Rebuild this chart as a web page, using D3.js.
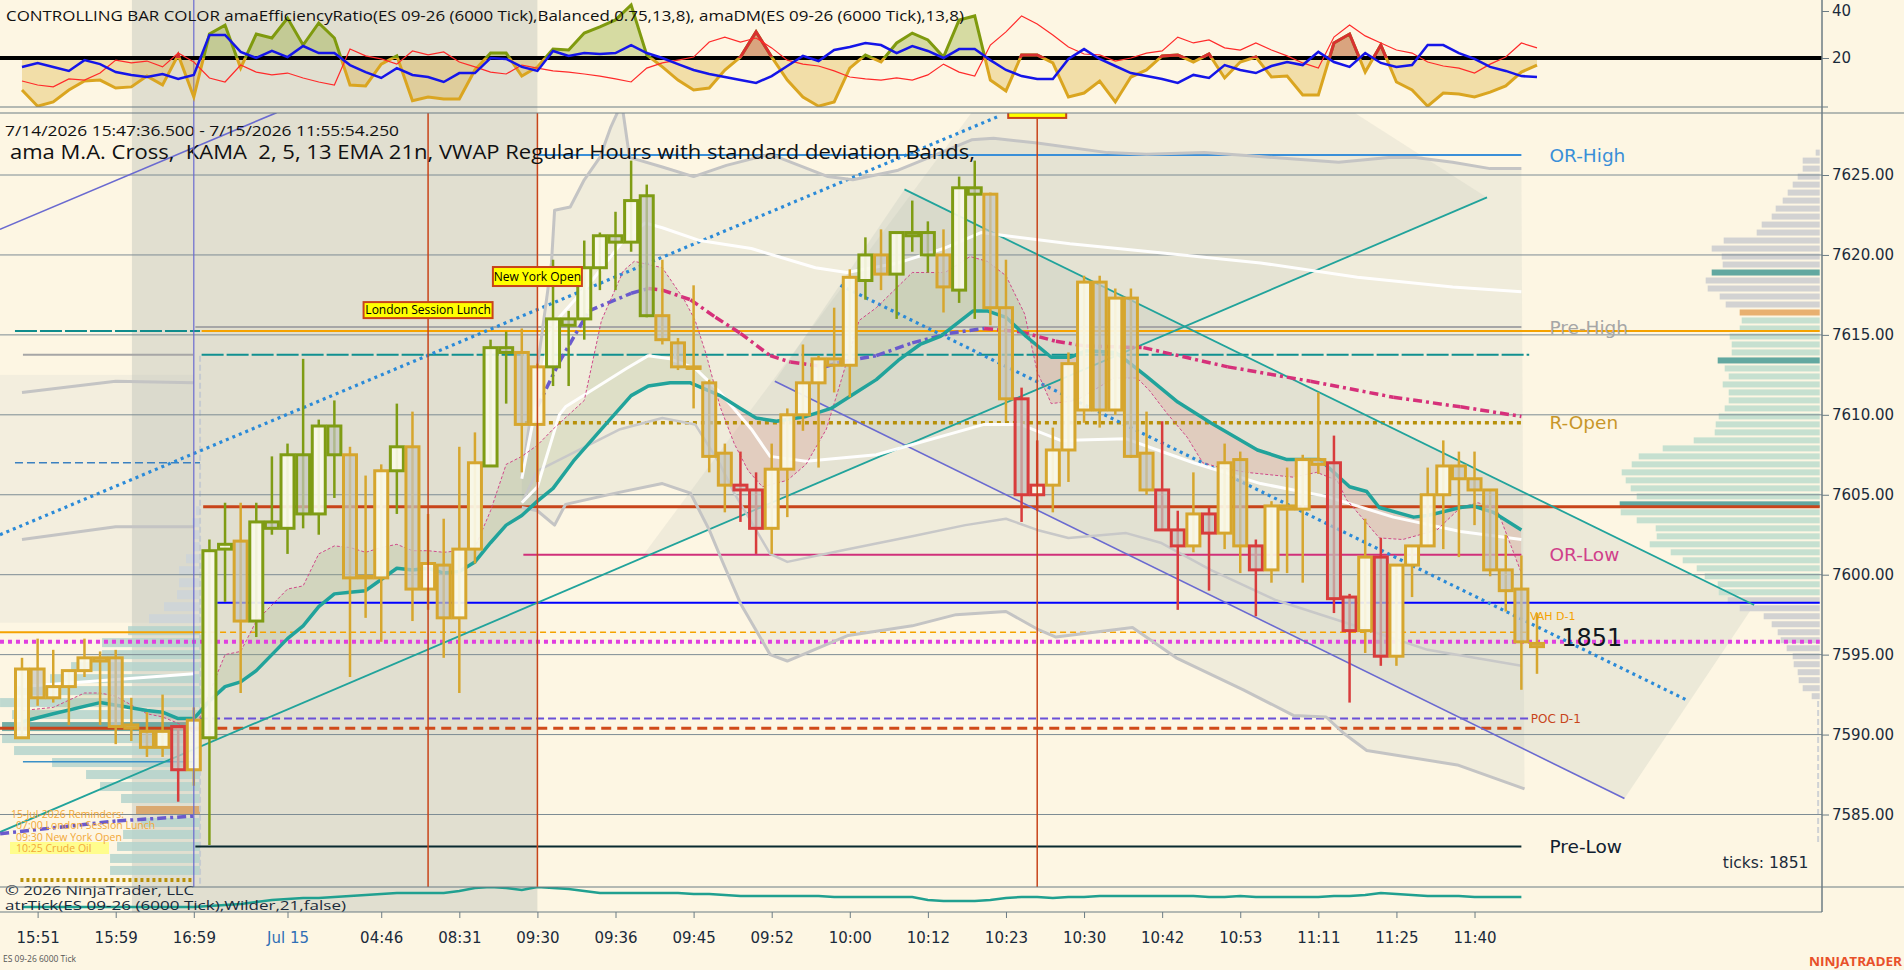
<!DOCTYPE html>
<html>
<head>
<meta charset="utf-8">
<style>
html, body { margin: 0; padding: 0; background: #fdf6e3; overflow: hidden; }
svg { display: block; }
</style>
</head>
<body>
<svg id="chart"></svg>
<script src="https://cdn.jsdelivr.net/npm/d3@7"></script>
<script>
"use strict";

var width  = 1904,
    height = 970;

// ---- bars (6000 tick ES 09-26) ----
var opens = [7589.8,7594.1,7592.3,7593.0,7594.0,7594.8,7594.8,7590.6,7590.2,7589.2,
  7590.5,7587.8,7589.8,7601.6,7602.1,7597.1,7603.3,7602.9,7607.5,7603.8,
  7609.3,7607.5,7599.8,7599.8,7606.5,7608.0,7599.1,7600.6,7597.3,7601.6,
  7606.8,7614.2,7613.9,7609.4,7613.0,7616.0,7616.0,7619.2,7621.2,7620.8,
  7623.7,7616.2,7614.5,7613.0,7612.0,7607.6,7605.6,7605.3,7602.9,7606.6,
  7610.0,7612.0,7613.5,7613.1,7618.4,7620.0,7618.8,7621.4,7621.4,7620.0,
  7617.8,7624.2,7623.8,7616.7,7611.0,7605.0,7605.6,7607.8,7610.3,7618.3,
  7610.3,7617.3,7607.6,7605.3,7602.8,7601.8,7603.8,7602.6,7607.2,7601.8,
  7600.3,7604.3,7604.1,7607.2,7607.0,7598.6,7596.5,7601.1,7594.9,7600.6,
  7601.8,7605.0,7606.8,7606.0,7605.3,7600.3,7599.1,7595.7];
var highs = [7594.8,7596.0,7595.3,7594.0,7596.0,7595.2,7595.3,7592.3,7591.4,7592.5,
  7590.5,7591.7,7602.2,7604.5,7604.5,7604.5,7607.4,7608.2,7613.5,7609.7,
  7610.9,7608.0,7606.2,7606.9,7610.7,7610.2,7603.8,7603.5,7608.0,7608.9,
  7614.7,7615.2,7615.4,7613.2,7619.7,7616.5,7620.9,7621.4,7622.7,7625.9,
  7624.4,7619.7,7614.8,7618.1,7612.2,7608.2,7607.7,7606.4,7608.2,7610.4,
  7614.4,7613.7,7616.7,7619.1,7621.1,7621.6,7621.4,7623.4,7622.1,7621.6,
  7624.9,7625.9,7623.9,7619.7,7611.7,7608.4,7609.2,7613.9,7618.7,7618.7,
  7617.9,7617.9,7610.2,7609.6,7604.0,7606.4,7604.2,7608.2,7607.7,7602.2,
  7604.6,7606.7,7607.5,7611.4,7608.7,7598.8,7603.5,7602.3,7600.6,7601.8,
  7606.7,7608.4,7607.7,7607.7,7605.3,7602.5,7601.2,7597.6];
var lows = [7589.8,7591.8,7592.0,7590.6,7593.6,7590.6,7589.4,7589.6,7588.6,7588.6,
  7585.8,7586.8,7583.1,7598.3,7592.6,7596.1,7602.5,7601.3,7602.9,7602.5,
  7604.8,7593.6,7597.3,7595.8,7603.8,7597.1,7597.8,7594.8,7592.6,7600.7,
  7606.8,7610.7,7606.4,7605.8,7611.8,7611.8,7614.7,7617.8,7617.8,7620.2,
  7616.1,7614.4,7612.8,7610.4,7606.4,7603.9,7603.3,7601.3,7601.3,7603.6,
  7609.0,7606.7,7611.4,7611.1,7617.2,7617.8,7616.0,7620.2,7618.9,7616.4,
  7617.0,7616.0,7615.6,7609.6,7603.3,7604.0,7603.9,7605.8,7609.5,7609.2,
  7610.0,7607.3,7605.0,7602.8,7597.8,7601.4,7599.0,7601.6,7600.1,7597.4,
  7599.5,7600.1,7599.5,7606.3,7597.6,7592.0,7595.1,7594.3,7594.3,7598.6,
  7601.8,7601.6,7601.1,7603.1,7599.9,7597.7,7592.8,7593.8];
var closes = [7594.1,7592.3,7593.0,7594.0,7594.8,7594.6,7590.5,7590.4,7589.2,7590.2,
  7587.8,7590.9,7601.5,7601.9,7597.1,7603.3,7602.9,7607.5,7603.8,7609.3,
  7607.5,7599.8,7599.9,7606.5,7608.0,7599.1,7600.7,7597.3,7601.6,7607.0,
  7614.2,7613.9,7609.4,7613.0,7616.0,7615.6,7619.2,7621.2,7620.8,7623.4,
  7616.2,7614.7,7613.0,7612.9,7607.4,7605.6,7605.3,7602.9,7606.6,7610.0,
  7612.0,7613.5,7613.1,7618.6,7620.0,7618.8,7621.4,7621.2,7620.0,7618.0,
  7624.2,7623.8,7616.7,7611.0,7605.0,7605.6,7607.8,7613.2,7618.3,7610.3,
  7617.3,7607.4,7605.3,7602.8,7601.8,7603.8,7602.6,7607.0,7601.8,7600.3,
  7604.3,7604.1,7607.2,7606.9,7598.5,7596.5,7601.1,7594.9,7600.6,7601.8,
  7605.0,7606.8,7606.0,7605.3,7600.3,7599.0,7595.8,7595.5];
// controlling bar colour: g = neutral, o = trend up, r = trend down
var barState = "gggggggggg" + "rgoogooooo" + "ogggoggggg" + "ooggoooooo" + "ogggggrrgg" +
               "ggggogooog" + "ooggrrgggg" + "gggrrgrggr" + "ggggrrgrgg" + "gggggggg";

// ---- top panel: amaEfficiencyRatio / amaDM ----
var erValues = [6.4,-0.5,1.3,6.4,10.2,10.6,7.2,7.7,12.3,8.5,
  21.3,3.4,30.2,34.0,15.7,30.2,28.5,37.0,25.5,34.9,
  28.5,8.5,8.1,17.4,20.9,1.8,3.4,2.6,2.6,14.9,
  22.1,22.1,12.3,16.2,23.8,23.4,30.6,33.2,36.2,42.6,
  21.3,16.2,10.6,6.4,7.2,14.9,20.4,31.1,20.4,10.6,
  3.4,-0.5,1.3,15.7,21.3,18.3,26.4,30.6,27.7,20.4,
  36.2,37.9,10.6,6.0,21.3,21.3,17.9,3.4,5.1,10.2,
  1.3,11.9,14.9,20.9,21.3,18.3,21.7,11.5,18.3,20.4,
  11.9,12.3,4.3,4.3,26.4,30.2,14.0,25.5,9.8,6.4,
  -0.5,5.1,4.7,3.4,5.5,8.1,14.0,17.0];
var dmPlus = [16.2,17.9,16.2,14.5,19.1,17.4,14.0,12.8,11.9,13.2,
  11.1,12.8,29.8,29.8,22.6,20.0,23.0,20.4,25.1,22.1,
  22.1,17.0,14.0,11.5,15.7,12.8,11.9,9.8,13.6,13.6,
  20.0,19.6,16.2,14.5,23.0,20.9,22.1,21.7,22.1,25.5,
  22.1,20.0,17.4,14.9,13.2,11.9,10.6,9.4,12.3,16.6,
  20.9,18.7,23.4,24.7,26.4,25.5,22.1,25.1,23.0,20.0,
  23.8,23.8,19.1,14.9,12.3,11.1,11.1,19.6,23.8,19.6,
  16.6,13.6,12.3,11.1,9.4,12.8,11.5,17.0,14.9,13.6,
  16.6,18.3,17.0,22.6,18.3,16.2,22.1,17.9,16.2,17.0,
  25.5,25.5,22.1,19.6,16.2,14.5,12.3,11.9];
var dmMinus = [10.2,8.5,7.7,11.1,10.6,13.6,19.1,17.9,18.7,16.2,
  22.1,18.3,11.5,9.8,17.0,14.0,12.8,13.6,11.5,9.8,
  8.5,23.8,20.9,19.6,17.4,23.0,21.3,22.6,18.3,16.2,
  14.0,13.2,17.0,15.7,14.5,14.0,13.2,12.3,11.1,9.8,
  15.7,17.9,19.1,20.4,26.8,28.9,26.8,28.5,24.3,19.1,
  17.4,16.6,14.5,11.9,11.1,10.6,11.5,10.6,12.8,17.4,
  14.0,12.3,25.5,31.1,37.9,34.5,29.8,24.7,21.7,21.3,
  18.7,20.0,22.1,23.0,28.9,26.4,27.7,24.3,23.4,26.4,
  23.4,20.9,17.9,15.7,28.9,34.0,29.4,26.4,23.4,22.1,
  18.3,16.6,15.7,13.6,17.4,20.4,26.4,24.3];
var erLevel = 20;
var indTicks = [20, 40];

// ---- bottom panel: atrTick ----
var atrValues = [1.5,1.5,1.5,1.5,1.5,1.5,1.5,1.5,1.5,1.5,
  1.5,1.5,1.55,1.6,1.65,1.75,1.85,1.9,1.95,1.95,
  2.0,2.05,2.1,2.15,2.2,2.2,2.2,2.2,2.3,2.45,
  2.5,2.45,2.35,2.5,2.45,2.4,2.3,2.2,2.2,2.2,
  2.2,2.2,2.2,2.15,2.15,2.1,2.05,2.05,2.05,2.05,
  2.05,2.05,2.0,2.0,2.0,2.0,2.0,2.0,1.85,1.8,
  1.8,1.8,1.85,1.95,2.0,2.0,1.95,2.0,2.0,2.05,
  2.05,2.05,2.05,2.05,2.05,2.05,2.0,2.0,2.05,2.0,
  2.0,2.0,2.0,2.0,2.05,2.05,2.1,2.2,2.15,2.1,
  2.05,2.05,2.05,2.0,2.0,2.0,2.0];

// ---- overlays: [bar, price] ----
var bandUpper2 = [[32,7606],[33,7613],[33.9,7619.5],[34.1,7622.8],[35.1,7623.0],[36.0,7624.7],[37.0,7626.1],[37.7,7628],[38.4,7629.5],[38.9,7626.1],
  [41.0,7625.5],[43.0,7624.9],[45.1,7625.6],[47.9,7626.3],[51.6,7624.9],[53.2,7624.7],[56.1,7625.3],[58.1,7626.1],
  [60.8,7627.2],[62.2,7627.3],[65.0,7627.0],[69.5,7626.4],[72.0,7626.3],[75.7,7626.4],[78.6,7626.2],[84.3,7625.8],
  [87.5,7626.1],[89.2,7626.1],[91.6,7625.8],[94.0,7625.4],[96.0,7625.4]];
var bandUpper1 = [[32,7606],[33,7611],[33.8,7615],[34.4,7616.1],[36.5,7618.4],[38.5,7620.9],[39.9,7622.0],[41.0,7621.7],
  [43.4,7620.9],[46.7,7620.4],[50.8,7619.2],[52.8,7618.9],[56.1,7619.5],[59.0,7620.4],[61.4,7621.4],[63.0,7621.2],
  [67.1,7620.7],[73.2,7620.1],[79.3,7619.5],[85.5,7618.6],[91.6,7618.0],[96.0,7617.7]];
var vwapLine = [[32,7604.5],[33,7605.5],[34.4,7610.0],[34.8,7610.5],[38.7,7612.9],[40.1,7613.7],[41.5,7613.5],[43.1,7612.9],
  [44.7,7611.4],[46.7,7609.1],[47.9,7607.4],[50.2,7607.1],[54.7,7607.5],[61.6,7609.4],[63.9,7609.4],[66.5,7608.4],
  [70.7,7608.5],[75.0,7607.0],[79.3,7605.7],[83.5,7604.9],[87.8,7603.6],[92.1,7602.7],[96.0,7602.2]];
var bandLower1 = [[32,7604.5],[33,7606.5],[38.3,7609.1],[41.0,7609.8],[43.1,7609.4],[44.7,7606.9],[45.6,7605.1],[47.0,7602.8],
  [47.9,7601.3],[49.0,7600.8],[52.4,7601.5],[57.0,7602.4],[60.4,7603.1],[63.0,7603.5],[65.0,7602.8],[67.0,7602.3],
  [70.7,7602.6],[72.9,7602.0],[76.1,7600.3],[80.3,7598.4],[85.7,7596.7],[90.0,7595.3],[96.0,7594.3]];
var bandLower2 = [[32,7604.2],[33,7604.0],[34.1,7603.1],[34.8,7604.4],[38.0,7605.1],[41.0,7605.7],[42.8,7605.1],[44.0,7602.8],
  [44.9,7600.7],[46.0,7598.2],[47.9,7595.0],[49.0,7594.6],[52.9,7596.2],[57.0,7596.8],[59.8,7597.5],[63.0,7597.7],
  [65.0,7596.6],[66.2,7596.1],[71.1,7596.7],[73.9,7594.8],[78.2,7592.8],[81.4,7591.2],[83.5,7591.1],[84.6,7590.1],
  [86.1,7589.0],[91.9,7588.1],[96.2,7586.6]];
var prevUpper = [[0,7611.4],[6,7612.1],[11,7612.0]];
var prevLower = [[0,7602.2],[6,7603.0],[11,7603.0]];
var prevVwap  = [[0,7593.0],[11,7593.8]];
var prevKama  = [[-1.4,7583.8],[6.1,7584.6],[11,7584.9]];

var emaSlow = [[0,7590.8],[2,7591.3],[5,7592.0],[8,7591.5],[9,7591.4],[10,7591.0],[11,7591.0],[12,7592.1],[13,7593.0],
  [14,7593.3],[15,7594.0],[16,7595.0],[17,7596.0],[18,7596.8],[19,7598.0],[20,7598.8],[21,7598.9],[22,7599.0],
  [23,7599.7],[24,7600.4],[25,7600.3],[26,7600.4],[27,7600.1],[28,7600.2],[29,7600.8],[30,7602.0],[31,7603.1],
  [32,7603.7],[33,7604.6],[34,7605.4],[35.3,7607.1],[37.1,7609.1],[39.0,7611.2],[40.1,7611.8],[41.5,7612.0],
  [42.8,7612.0],[44.7,7611.2],[46.0,7610.4],[47.0,7609.8],[48.3,7609.6],[50.2,7609.9],[51.8,7610.4],[53.4,7611.4],
  [54.7,7612.2],[56.1,7613.4],[57.5,7614.4],[58.8,7614.9],[60.9,7616.5],[61.8,7616.5],[63.0,7616.1],[64.3,7614.9],
  [65.9,7613.6],[67.1,7613.6],[68.1,7614.0],[70.0,7613.9],[70.7,7613.4],[72.0,7612.4],[74.0,7610.8],[76.1,7609.5],
  [79.1,7607.8],[81.0,7607.2],[83.1,7607.2],[85.0,7605.5],[86.1,7605.2],[86.9,7604.2],[89.1,7603.6],[90.0,7603.7],
  [92.1,7604.2],[92.9,7604.3],[94.2,7603.9],[96.0,7602.8]];
var emaFast = [[0,7591.5],[2,7591.7],[4,7592.6],[5,7592.6],[6,7592.4],[8,7591.3],[9,7591.1],[10,7590.7],[11,7590.1],
  [12,7592.6],[13,7595.0],[14,7595.2],[15,7597.1],[16,7598.1],[17,7599.1],[18,7599.3],[19,7601.3],[20,7601.8],
  [21,7601.7],[22,7601.4],[23,7601.7],[24,7601.9],[25,7601.5],[26,7601.5],[27,7601.4],[28,7601.5],[29,7601.7],
  [30,7604.0],[31,7606.9],[32,7607.4],[33,7608.1],[34,7609.1],[35,7610.0],[36.0,7610.9],[37.1,7615.9],[38.5,7619.0],
  [39.2,7619.6],[41.0,7619.2],[42.4,7617.2],[43.1,7615.9],[43.8,7613.8],[44.7,7610.5],[45.6,7608.2],[46.5,7606.5],
  [47.4,7605.5],[49.0,7605.9],[50.2,7606.9],[51.5,7609.1],[52.4,7612.0],[53.6,7615.9],[54.7,7616.7],[57.0,7618.9],
  [59.1,7618.9],[60.7,7619.9],[61.8,7619.6],[63.0,7618.7],[64.2,7616.3],[65.0,7612.7],[65.9,7610.7],[67.5,7610.9],
  [68.9,7611.7],[69.9,7612.3],[71.4,7612.3],[72.2,7611.5],[73.3,7610.1],[74.6,7608.6],[75.6,7607.0],[76.7,7606.7],
  [78.4,7606.4],[81.4,7606.1],[82.9,7606.4],[84.2,7605.9],[84.8,7604.7],[86.9,7602.3],[88.4,7602.2],[90.6,7602.8],
  [92.1,7604.2],[93.2,7604.5],[94.4,7604.2],[96.0,7600.1]];
var kamaLine = [[33,7610.5],[34.4,7613.3],[36.3,7616.5],[39.0,7617.6],[40.1,7617.9],[41.0,7617.8],[42.8,7617.2],
  [44.4,7616.1],[46.0,7615.1],[47.9,7613.7],[49.2,7613.3],[51.4,7613.0],[52.4,7613.3],[54.7,7613.7],[57.0,7614.5],
  [59.4,7615.1],[61.6,7615.4],[63.9,7615.2],[66.2,7614.6],[68.1,7614.3],[71.8,7614.2],[77.2,7613.0],[82.5,7612.1],
  [87.8,7611.1],[92.1,7610.5],[96.0,7609.9]];

// ---- drawn lines: [[bar, price], [bar, price], colour, width, dash] ----
var trendLines = [
  [[-1.41,7602.5],[62.6,7628.7],"#2a8ad8",3.2,"3,4"],
  [[52.4,7618.1],[106.5,7592.2],"#2a8ad8",3.2,"3,4"],
  [[-1.41,7621.6],[16.3,7628.9],"#6a6ad0",1.6,null],
  [[48.2,7612.1],[102.6,7586.0],"#6a6ad0",1.6,null],
  [[-1.41,7583.9],[93.8,7623.6],"#21a39b",1.8,null],
  [[56.5,7624.1],[110.9,7598.1],"#21a39b",1.8,null]
];
var channelArea = [[48.2,7612.1],[56.5,7624.1],[110.9,7598.1],[102.6,7586.0]];
var upperArea   = [[39.6,7601.0],[60.8,7628.9],[85.3,7628.9],[93.8,7623.6]];

// ---- price levels: [price, from bar, to bar, colour, width, dash] ----
var levels = [
  [7626.25, 33.0, 96.0, "#3a8fd8", 2, null],
  [7615.5, 11.1, 96.0, "#a6a6a6", 2, null],
  [7615.25, 11.5, 115.1, "#f5a200", 2, null],
  [7615.25, -0.45, 11.4, "#108c8c", 2, "22,3"],
  [7613.75, 11.5, 96.5, "#109090", 2, "22,3"],
  [7613.75, 0.06, 10.95, "#a6a6a6", 2, null],
  [7609.5, 32.2, 96.0, "#b8900a", 3.5, "4,4"],
  [7607.0, -0.45, 11.4, "#3a80c0", 1.5, "8,4"],
  [7604.25, 11.6, 115.1, "#c8441a", 3, null],
  [7601.25, 32.1, 96.0, "#d0307a", 2, null],
  [7598.25, 12.5, 115.1, "#0000ff", 2, null],
  [7596.4, -1.41, 11.4, "#f5a200", 2, null],
  [7596.4, 11.4, 96.5, "#f5a200", 1.5, "6,4"],
  [7595.8, -1.41, 115.1, "#e040e0", 4, "4,4"],
  [7591.0, 11.4, 96.5, "#6a50d8", 2, "8,4"],
  [7590.4, -1.41, 11.4, "#c8441a", 3, null],
  [7590.4, 12.5, 96.0, "#d04a1a", 3, "10,6"],
  [7588.3, 0.06, 10.95, "#3a90c8", 1.5, null],
  [7583.0, 11.1, 96.0, "#0a2a30", 2, null],
  [7580.9, -0.1, 10.95, "#b8900a", 4, "3,3"]
];
var levelNames  = ["OR-High", "Pre-High", "R-Open", "OR-Low", "Pre-Low"];
var levelPrices = [7626.25, 7615.5, 7609.5, 7601.25, 7583.0];
var levelColors = ["#3a8fd8", "#a6a6a6", "#c8962a", "#d0408a", "#102030"];

// ---- volume profiles ----
var profileTop = 7626.4, profileStep = 0.5;
var profileVolume = [4,17,17,22,27,32,37,44,48,58,63,96,108,98,97,108,114,112,100,94,
  80,78,80,90,88,88,102,95,91,97,91,91,95,101,104,105,126,157,181,188,
  198,194,189,183,200,199,183,164,163,170,149,137,123,115,102,101,92,80,56,48,
  42,39,33,27,26,22,21,17,8];
var profileType = "gggggggggggggggpggggo" + "vvvvvpvvvvvvvvvvvvvvvvvpvvvvvvvvvvv" + "ggggggggggggg";
var prevProfileTop = 7604.0, prevProfileStep = 0.75;
var prevProfileVolume = [4,8,7,7,14,21,21,23,36,51,72,98,98,129,150,186,200,188,198,198,
  186,148,114,100,79,64,59,77,83,90,90];
var prevProfileType = "gggggggggg" + "vvvvvvvvpvvvvvvovvvvv";

// ---- sessions and markers (bar index) ----
var sessionShade = [7.04, 33.0];
var cursorBar = 11;
var eventBars = [26, 33, 65];
var eventNames = ["London Session Lunch", "New York Open", ""];
var eventPrices = [7616.55, 7618.65, 7629.07];

var priceTicks = [7585, 7590, 7595, 7600, 7605, 7610, 7615, 7620, 7625];
var timeBars   = [1, 6, 11, 17, 23, 28, 33, 38, 43, 48, 53, 58, 63, 68, 73, 78, 83, 88, 93];
var timeLabels = ["15:51","15:59","16:59","Jul 15","04:46","08:31","09:30","09:36","09:45","09:52",
                  "10:00","10:12","10:23","10:30","10:42","10:53","11:11","11:25","11:40"];
var lastTicks = 1851;


// Setup
var plotRight = 1822, indBottom = 107, priceTop = 113, priceBottom = 887, atrBottom = 912;

var x    = d3.scaleLinear().domain([0, 97]).range([22, 1537]);
var y    = d3.scaleLinear().domain([7585, 7625]).range([814.5, 175]);
var yInd = d3.scaleLinear().domain([20, 40]).range([58, 11]);
var yAtr = d3.scaleLinear().domain([1.25, 2.5]).range([atrBottom, priceBottom]);
var vol  = d3.scaleLinear().domain([0, 200]).range([0, 200]);

var stateColor = {g: "#d6a62e", o: "#7f9c14", r: "#d83c3c"};
var axisColor = "#6c7c84";

var svg = d3.select("#chart")
            .attr("width", width)
            .attr("height", height)
            .style("font-family", "'DejaVu Sans', sans-serif");

svg.append("rect").attr("width", width).attr("height", height).attr("fill", "#fdf6e3");

var defs = svg.append("defs");
function addClip(id, x0, y0, w, h) {
    defs.append("clipPath").attr("id", id)
        .append("rect").attr("x", x0).attr("y", y0).attr("width", w).attr("height", h);
}
addClip("clipPrice", 0, priceTop, plotRight, priceBottom - priceTop);
addClip("clipInd", 0, 0, plotRight, indBottom);
addClip("clipAbove", 0, 0, plotRight, yInd(erLevel));
addClip("clipBelow", 0, yInd(erLevel), plotRight, indBottom - yInd(erLevel));
addClip("clipAtr", 0, priceBottom, plotRight, atrBottom - priceBottom);

var pLine = d3.line().x(function(d) { return x(d[0]); }).y(function(d) { return y(d[1]); });

function polyPath(pts) {
    return "M" + pts.map(function(d) { return x(d[0]) + "," + y(d[1]); }).join("L") + "Z";
}

// session shading over all panels
svg.append("rect")
    .attr("x", x(sessionShade[0]))
    .attr("y", 0)
    .attr("width", x(sessionShade[1]) - x(sessionShade[0]))
    .attr("height", atrBottom)
    .attr("fill", "#919a97")
    .attr("opacity", 0.25);


// ---------------- price panel ----------------
var main = svg.append("g").attr("clip-path", "url(#clipPrice)");

main.append("rect")
    .attr("x", x(-1.41)).attr("y", y(7612.5))
    .attr("width", x(cursorBar) - x(-1.41)).attr("height", y(7597) - y(7612.5))
    .attr("fill", "#b8c0c0").attr("opacity", 0.14);

main.append("path")
    .attr("d", "M" + bandUpper2.concat(bandLower2.slice().reverse())
        .map(function(d) { return x(d[0]) + "," + y(d[1]); }).join("L") + "Z")
    .attr("fill", "#9aa8a8").attr("opacity", 0.13);

main.append("path").attr("d", polyPath(upperArea)).attr("fill", "#b0b4ae").attr("opacity", 0.16);
main.append("path").attr("d", polyPath(channelArea)).attr("fill", "#aab8b0").attr("opacity", 0.2);

// right volume profile
var profileColor = {g: "#d2d2d2", v: "#c6e0d0", p: "#62a8a0", o: "#e8b070"};
main.append("g").selectAll("rect")
    .data(profileVolume)
    .enter().append("rect")
        .attr("x", function(d) { return x(115.1) - vol(d); })
        .attr("y", function(d, i) { return y(profileTop - i * profileStep) - 3; })
        .attr("width", function(d) { return vol(d); })
        .attr("height", 6)
        .attr("fill", function(d, i) { return profileColor[profileType[i]]; });

// previous session profile
var prevProfileColor = {g: "#cdd3d8", v: "#b4d4cc", p: "#5aa09a", o: "#d8a060"};
main.append("g").selectAll("rect")
    .data(prevProfileVolume)
    .enter().append("rect")
        .attr("x", function(d) { return x(11.4) - vol(d); })
        .attr("y", function(d, i) { return y(prevProfileTop - i * prevProfileStep) - 4.5; })
        .attr("width", function(d) { return vol(d); })
        .attr("height", 9)
        .attr("fill", function(d, i) { return prevProfileColor[prevProfileType[i]]; })
        .attr("opacity", 0.85);

main.append("line")
    .attr("x1", x(11.4)).attr("x2", x(11.4)).attr("y1", y(7613.7)).attr("y2", priceBottom)
    .attr("stroke", "#c6cbd0").attr("stroke-width", 2).attr("stroke-dasharray", "6,3");
main.append("line")
    .attr("x1", x(115)).attr("x2", x(115)).attr("y1", y(7592.1)).attr("y2", y(7583.1))
    .attr("stroke", "#cfd2d4").attr("stroke-width", 2).attr("stroke-dasharray", "6,3");

// grid
main.append("g").selectAll("line")
    .data(priceTicks)
    .enter().append("line")
        .attr("x1", 0).attr("x2", plotRight)
        .attr("y1", y).attr("y2", y)
        .attr("stroke", "#7d8c94").attr("stroke-width", 1);

// fill between the two averages
var fastPts = emaFast.map(function(d) { return [x(d[0]), y(d[1])]; });
var slowPts = emaSlow.map(function(d) { return [x(d[0]), y(d[1])]; });
defs.append("clipPath").attr("id", "slowAbove").append("path")
    .attr("d", "M" + slowPts.join("L") + "L" + [x(96), priceTop] + "L" + [x(0), priceTop] + "Z");
defs.append("clipPath").attr("id", "slowBelow").append("path")
    .attr("d", "M" + slowPts.join("L") + "L" + [x(96), priceBottom] + "L" + [x(0), priceBottom] + "Z");
var between = "M" + fastPts.join("L") + "L" + slowPts.slice().reverse().join("L") + "Z";
main.append("path").attr("d", between).attr("fill", "#a0b080").attr("opacity", 0.22)
    .attr("clip-path", "url(#slowAbove)");
main.append("path").attr("d", between).attr("fill", "#d88c80").attr("opacity", 0.24)
    .attr("clip-path", "url(#slowBelow)");

// levels
main.append("g").selectAll("line")
    .data(levels)
    .enter().append("line")
        .attr("x1", function(d) { return x(d[1]); })
        .attr("x2", function(d) { return x(d[2]); })
        .attr("y1", function(d) { return y(d[0]); })
        .attr("y2", function(d) { return y(d[0]); })
        .attr("stroke", function(d) { return d[3]; })
        .attr("stroke-width", function(d) { return d[4]; })
        .attr("stroke-dasharray", function(d) { return d[5]; });

// drawing tools
main.append("g").selectAll("path")
    .data(trendLines)
    .enter().append("path")
        .attr("d", function(d) { return pLine([d[0], d[1]]); })
        .attr("fill", "none")
        .attr("stroke", function(d) { return d[2]; })
        .attr("stroke-width", function(d) { return d[3]; })
        .attr("stroke-dasharray", function(d) { return d[4]; });

// vwap bands
function drawCurve(pts, color, w, dash, op) {
    main.append("path")
        .attr("d", pLine(pts))
        .attr("fill", "none")
        .attr("stroke", color)
        .attr("stroke-width", w)
        .attr("stroke-dasharray", dash)
        .attr("opacity", op || 1)
        .attr("stroke-linejoin", "round");
}
drawCurve(prevUpper, "#c4c4c4", 3);
drawCurve(prevLower, "#c4c4c4", 3);
drawCurve(prevVwap, "#ffffff", 3);
drawCurve(bandUpper2, "#c4c4c4", 3);
drawCurve(bandLower2, "#c4c4c4", 3);
drawCurve(bandLower1, "#c8c8c8", 2.5);
drawCurve(bandUpper1, "#ffffff", 3, null, 0.95);
drawCurve(vwapLine, "#ffffff", 3, null, 0.95);

// KAMA dash-dot, coloured by slope
function drawKama(pts) {
    for (var i = 1; i < pts.length; i++) {
        main.append("path")
            .attr("d", pLine([pts[i - 1], pts[i]]))
            .attr("fill", "none")
            .attr("stroke", pts[i][1] >= pts[i - 1][1] ? "#6a5acd" : "#d6307a")
            .attr("stroke-width", 3.5)
            .attr("stroke-dasharray", "9,4,3,4");
    }
}
drawKama(prevKama);
drawKama(kamaLine);

drawCurve(emaFast, "#d04a8a", 1, "3,2");
drawCurve(emaSlow, "#21a39b", 3.5);

// candles
var bars = d3.range(opens.length).map(function(i) {
    return {i: i, o: opens[i], h: highs[i], l: lows[i], c: closes[i], s: barState[i]};
});
var candle = main.append("g").selectAll("g")
    .data(bars)
    .enter().append("g")
        .attr("transform", function(d) { return "translate(" + x(d.i) + ",0)"; });
candle.append("line")
    .attr("y1", function(d) { return y(d.h); })
    .attr("y2", function(d) { return y(d.l); })
    .attr("stroke", function(d) { return stateColor[d.s]; })
    .attr("stroke-width", 2.5);
candle.append("rect")
    .attr("x", -6.5)
    .attr("width", 13)
    .attr("y", function(d) { return y(Math.max(d.o, d.c)); })
    .attr("height", function(d) { return Math.max(1.5, Math.abs(y(d.o) - y(d.c))); })
    .attr("fill", function(d) { return d.c >= d.o ? "rgba(250,248,232,0.92)" : "rgba(196,198,192,0.7)"; })
    .attr("stroke", function(d) { return stateColor[d.s]; })
    .attr("stroke-width", 3);

// session / event lines
main.append("g").selectAll("line")
    .data(eventBars)
    .enter().append("line")
        .attr("x1", x).attr("x2", x)
        .attr("y1", priceTop).attr("y2", priceBottom)
        .attr("stroke", "#c8441a").attr("stroke-width", 1.5);

var events = main.append("g").selectAll("g")
    .data(eventBars)
    .enter().append("g")
        .attr("transform", function(d, i) { return "translate(" + x(d) + "," + y(eventPrices[i]) + ")"; });
events.append("rect")
    .attr("x", function(d, i) { return i === 0 ? -64.5 : (i === 1 ? -44.5 : -29); })
    .attr("y", function(d, i) { return i === 1 ? -9.5 : -8; })
    .attr("width", function(d, i) { return i === 0 ? 129 : (i === 1 ? 89 : 58); })
    .attr("height", function(d, i) { return i === 1 ? 19 : 16; })
    .attr("fill", "#ffff00")
    .attr("stroke", "#c8441a")
    .attr("stroke-width", 2);
events.append("text")
    .attr("text-anchor", "middle")
    .attr("dy", "0.36em")
    .style("font-family", "'Open Sans', sans-serif")
    .style("font-size", "12px")
    .attr("fill", "#000")
    .text(function(d, i) { return eventNames[i]; });

// level labels
main.append("g").selectAll("text")
    .data(levelNames)
    .enter().append("text")
        .attr("x", x(97.8))
        .attr("y", function(d, i) { return y(levelPrices[i]); })
        .attr("dy", "0.36em")
        .style("font-size", "18.5px")
        .attr("fill", function(d, i) { return levelColors[i]; })
        .text(function(d) { return d; });

main.append("text").attr("x", x(96.55)).attr("y", y(7597.4)).attr("dy", "0.36em")
    .style("font-size", "11px").attr("fill", "#f5a200").text("VAH D-1");
main.append("text").attr("x", x(96.6)).attr("y", y(7591.0)).attr("dy", "0.36em")
    .style("font-size", "12px").attr("fill", "#c8441a").text("POC D-1");
main.append("text").attr("x", x(98.55)).attr("y", y(7596.1)).attr("dy", "0.36em")
    .style("font-size", "24px").attr("fill", "#101820").text(lastTicks);
main.append("text").attr("x", x(108.9)).attr("y", y(7582.0)).attr("dy", "0.36em")
    .style("font-size", "15.5px").attr("fill", "#1a2a3a").text("ticks: " + lastTicks);

// reminders
var reminders = ["15-Jul-2026 Reminders:", "07:00 London Session Lunch", "09:30 New York Open", "10:25 Crude Oil"];
main.append("rect").attr("x", 10).attr("y", 842).attr("width", 99).attr("height", 12)
    .attr("fill", "#ffff70").attr("opacity", 0.75);
main.append("g").selectAll("text")
    .data(reminders)
    .enter().append("text")
        .attr("x", function(d, i) { return i === 0 ? 11 : 16; })
        .attr("y", function(d, i) { return 818 + i * 11.3; })
        .style("font-family", "'Open Sans', sans-serif")
        .style("font-size", "10.5px")
        .attr("fill", "#f2a838")
        .text(function(d) { return d; });

// chart titles
function title(txt, x0, y0, size, len) {
    svg.append("text")
        .attr("x", x0).attr("y", y0)
        .attr("textLength", len)
        .attr("lengthAdjust", "spacingAndGlyphs")
        .style("font-family", "'Open Sans', sans-serif")
        .style("font-size", size + "px")
        .style("white-space", "pre")
        .attr("fill", "#101010")
        .text(txt);
}
title("7/14/2026 15:47:36.500 - 7/15/2026 11:55:54.250", 5, 136, 14.5, 394);
title("ama M.A. Cross,  KAMA  2, 5, 13 EMA 21n, VWAP Regular Hours with standard deviation Bands,", 10, 158.5, 19.5, 965);

// cursor line
svg.append("line")
    .attr("x1", x(cursorBar)).attr("x2", x(cursorBar))
    .attr("y1", 0).attr("y2", priceBottom)
    .attr("stroke", "#6a6ad0").attr("stroke-width", 1.2);


// ---------------- top indicator panel ----------------
var ind = svg.append("g").attr("clip-path", "url(#clipInd)");
var erPts = erValues.map(function(v, i) { return {i: i, v: v}; });
var erArea = d3.area().x(function(d) { return x(d.i); }).y0(yInd(erLevel)).y1(function(d) { return yInd(d.v); });
var erLine = d3.line().x(function(d) { return x(d.i); }).y(function(d) { return yInd(d.v); });

ind.append("path").attr("d", erArea(erPts)).attr("fill", "#daa520").attr("opacity", 0.3)
    .attr("clip-path", "url(#clipBelow)");
ind.append("path").attr("d", erArea(erPts)).attr("fill", "#7f9a0e").attr("opacity", 0.3)
    .attr("clip-path", "url(#clipAbove)");

// runs of red bars
var redRuns = [];
for (var i = 0; i < barState.length; i++) {
    if (barState[i] === "r" && (i === 0 || barState[i - 1] !== "r")) {
        var j = i;
        while (j + 1 < barState.length && barState[j + 1] === "r") j++;
        redRuns.push(erPts.slice(Math.max(0, i - 1), Math.min(erPts.length, j + 2)));
    }
}
redRuns.forEach(function(run) {
    ind.append("path").attr("d", erArea(run)).attr("fill", "#e04040").attr("opacity", 0.35)
        .attr("clip-path", "url(#clipAbove)");
});

ind.append("line")
    .attr("x1", 0).attr("x2", plotRight)
    .attr("y1", yInd(erLevel)).attr("y2", yInd(erLevel))
    .attr("stroke", "#000").attr("stroke-width", 4);

ind.append("path").attr("d", erLine(erPts)).attr("fill", "none")
    .attr("stroke", "#daa520").attr("stroke-width", 3).attr("clip-path", "url(#clipBelow)");
ind.append("path").attr("d", erLine(erPts)).attr("fill", "none")
    .attr("stroke", "#7f9a0e").attr("stroke-width", 3).attr("clip-path", "url(#clipAbove)");
redRuns.forEach(function(run) {
    ind.append("path").attr("d", erLine(run)).attr("fill", "none")
        .attr("stroke", "#d83030").attr("stroke-width", 3).attr("clip-path", "url(#clipAbove)");
});

var idxLine = d3.line().x(function(d, i) { return x(i); }).y(function(d) { return yInd(d); });
ind.append("path").attr("d", idxLine(dmMinus)).attr("fill", "none")
    .attr("stroke", "#ff2a2a").attr("stroke-width", 1.2);
ind.append("path").attr("d", idxLine(dmPlus)).attr("fill", "none")
    .attr("stroke", "#1515e8").attr("stroke-width", 2.5);

title("CONTROLLING BAR COLOR amaEfficiencyRatio(ES 09-26 (6000 Tick),Balanced,0.75,13,8), amaDM(ES 09-26 (6000 Tick),13,8)",
      6, 21, 15, 958);


// ---------------- ATR panel ----------------
var atr = svg.append("g").attr("clip-path", "url(#clipAtr)");
atr.append("path")
    .attr("d", d3.line().x(function(d, i) { return x(i); }).y(function(d) { return yAtr(d); })(atrValues))
    .attr("fill", "none")
    .attr("stroke", "#20a090")
    .attr("stroke-width", 2.5);

svg.append("text").attr("x", 5).attr("y", 895).attr("textLength", 189).attr("lengthAdjust", "spacingAndGlyphs")
    .style("font-family", "'Open Sans', sans-serif").style("font-size", "12px")
    .attr("fill", "#1a2a3a").text("\u00a9 2026 NinjaTrader, LLC");
svg.append("text").attr("x", 5).attr("y", 910).attr("textLength", 341).attr("lengthAdjust", "spacingAndGlyphs")
    .style("font-family", "'Open Sans', sans-serif").style("font-size", "12px")
    .attr("fill", "#1a2a3a").text("atrTick(ES 09-26 (6000 Tick),Wilder,21,false)");


// ---------------- frame and axes ----------------
function hRule(y0, x2) {
    svg.append("line").attr("x1", 0).attr("x2", x2).attr("y1", y0).attr("y2", y0)
        .attr("stroke", axisColor).attr("stroke-width", 1.2);
}
hRule(indBottom, plotRight + 6);
hRule(priceTop, width);
hRule(priceBottom, width);
hRule(atrBottom, plotRight);
svg.append("line").attr("x1", plotRight).attr("x2", plotRight).attr("y1", 0).attr("y2", atrBottom)
    .attr("stroke", axisColor).attr("stroke-width", 1.5);

function styleAxis(g) {
    g.select(".domain").remove();
    g.selectAll(".tick line").attr("stroke", axisColor);
    g.selectAll(".tick text").attr("fill", "#1a2a3a").style("font-size", "15px")
        .style("font-family", "'DejaVu Sans', sans-serif");
}

svg.append("g")
    .attr("transform", "translate(" + plotRight + ",0)")
    .call(d3.axisRight(y).tickValues(priceTicks).tickFormat(d3.format(".2f")).tickSize(7).tickPadding(3))
    .call(styleAxis);

svg.append("g")
    .attr("transform", "translate(" + plotRight + ",0)")
    .call(d3.axisRight(yInd).tickValues(indTicks).tickSize(7).tickPadding(3))
    .call(styleAxis);

var timeAxis = svg.append("g")
    .attr("transform", "translate(0," + atrBottom + ")")
    .call(d3.axisBottom(x).tickValues(timeBars)
        .tickFormat(function(d, i) { return timeLabels[i]; })
        .tickSize(6).tickPadding(14))
    .call(styleAxis);
timeAxis.selectAll(".tick text")
    .attr("fill", function(d, i) { return timeLabels[i] === "Jul 15" ? "#2f6fb5" : "#1a2a3a"; });

svg.append("text").attr("x", 3).attr("y", 962)
    .style("font-family", "'Open Sans', sans-serif").style("font-size", "8.5px")
    .attr("fill", "#555").text("ES 09-26 6000 Tick");
svg.append("text").attr("x", 1902).attr("y", 966).attr("text-anchor", "end")
    .attr("textLength", 93).attr("lengthAdjust", "spacingAndGlyphs")
    .style("font-family", "'Open Sans', sans-serif").style("font-size", "13px").style("font-weight", "bold")
    .attr("fill", "#e8502a").text("NINJATRADER");
</script>
</body>
</html>
